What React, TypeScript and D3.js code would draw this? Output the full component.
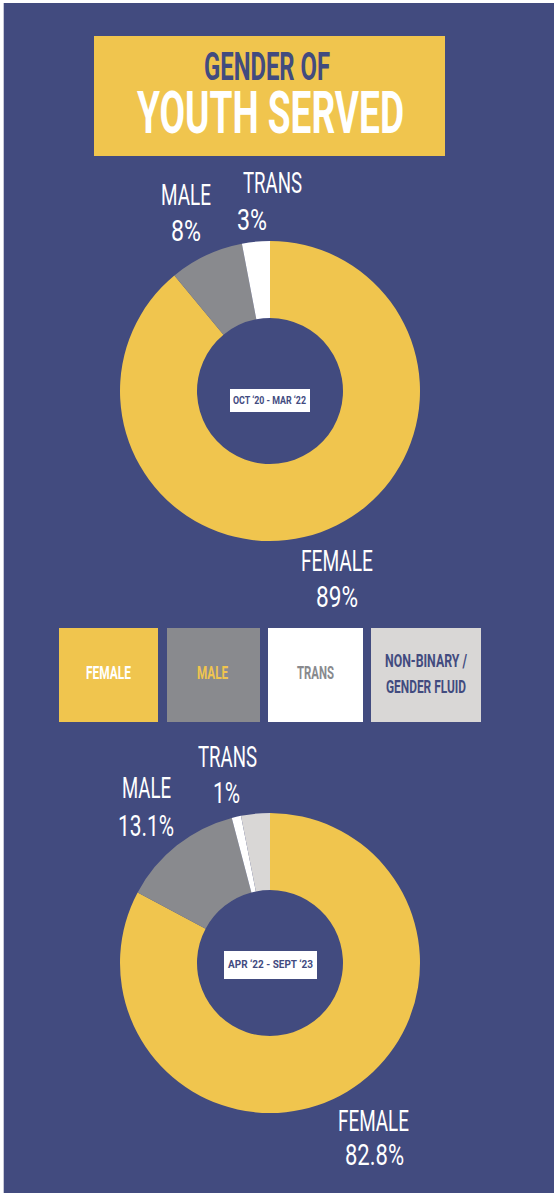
import React, { useEffect } from 'react';
import * as d3 from 'd3';

const categories = ['FEMALE', 'MALE', 'TRANS', 'NON-BINARY / GENDER FLUID'];
const periods = ['OCT ‘20 - MAR ‘22', 'APR ‘22 - SEPT ‘23'];
const share2020 = [89, 8, 3, 0];
const share2022 = [82.8, 13.1, 1, 3.1];
const pctLabels2020 = ['89%', '8%', '3%'];
const pctLabels2022 = ['82.8%', '13.1%', '1%'];

const NAVY = '#424b7f';
const colors = ['#f0c54e', '#898a8e', '#ffffff', '#d9d7d6'];
const legendText = ['#ffffff', '#f0c54e', '#898a8e', NAVY];

const FONT = 'Roboto, "DejaVu Sans", sans-serif';

// label boxes: [left, width, nameBaseline, pctLeft, pctWidth, pctBaseline]
const labelLayout = [
  [
    [301, 72, 571, 316, 42, 607],
    [161, 50, 205, 171, 30, 241],
    [243, 59, 193, 237, 30, 230],
  ],
  [
    [338, 71, 1131, 345, 59, 1165],
    [122, 49, 798, 118, 56, 836],
    [198, 59, 767, 213, 27, 803],
  ],
];

function Fit({ x, y, w, size, fill, weight = 400, children }: any) {
  return (
    <text x={x} y={y} textLength={w} lengthAdjust="spacingAndGlyphs"
      fontFamily={FONT} fontSize={size} fontWeight={weight} fill={fill}>
      {children}
    </text>
  );
}

function Donut({ values, cy, idx, period, box }: any) {
  const cx = 270;
  const pie = d3.pie<number>().sort(null).value((d) => d);
  const arc = d3.arc<d3.PieArcDatum<number>>().innerRadius(73).outerRadius(150);
  const arcs = pie(values);
  const pcts = idx === 0 ? pctLabels2020 : pctLabels2022;
  return (
    <g>
      <g transform={`translate(${cx},${cy})`}>
        {arcs.map((a, i) => (
          <path key={i} d={arc(a) || ''} fill={colors[i]} />
        ))}
      </g>
      <rect x={box[0]} y={box[1]} width={box[2]} height={box[3]} fill="#fff" />
      <Fit x={box[4]} y={box[5]} w={box[6]} size={11} fill={NAVY} weight={700}>{period}</Fit>
      {labelLayout[idx].map((l, i) => (
        <g key={i}>
          <Fit x={l[0]} y={l[2]} w={l[1]} size={29} fill="#fff">{categories[i]}</Fit>
          <Fit x={l[3]} y={l[5]} w={l[4]} size={29} fill="#fff">{pcts[i]}</Fit>
        </g>
      ))}
    </g>
  );
}

export default function App() {
  useEffect(() => {
    document.body.style.margin = '0';
    document.body.style.overflow = 'hidden';
  }, []);

  const legendBoxes = [
    [59, 99], [167, 93], [268, 95], [371, 110],
  ];

  return (
    <svg width={554} height={1193} style={{ position: 'absolute', left: 0, top: 0, display: 'block' }}>
      <rect x={0} y={0} width={554} height={1193} fill="#fff" />
      <rect x={3.7} y={3} width={551} height={1190} fill={NAVY} />

      <rect x={94} y={36} width={351} height={120} fill="#f0c54e" />
      <Fit x={204} y={80} w={126} size={39} fill={NAVY} weight={700}>GENDER OF</Fit>
      <Fit x={137} y={133} w={267} size={59} fill="#fff" weight={700}>YOUTH SERVED</Fit>

      <Donut values={share2020} cy={391} idx={0} period={periods[0]}
        box={[230, 389, 80, 23, 233, 404, 73]} />

      {legendBoxes.map((b, i) => (
        <rect key={i} x={b[0]} y={628} width={b[1]} height={94} fill={colors[i]} />
      ))}
      <Fit x={86} y={679} w={45} size={19} fill={legendText[0]} weight={700}>{categories[0]}</Fit>
      <Fit x={197} y={679} w={31} size={19} fill={legendText[1]} weight={700}>{categories[1]}</Fit>
      <Fit x={297} y={679} w={37} size={19} fill={legendText[2]} weight={700}>{categories[2]}</Fit>
      <Fit x={385} y={667} w={82} size={19} fill={legendText[3]} weight={700}>NON-BINARY /</Fit>
      <Fit x={386} y={693} w={80} size={19} fill={legendText[3]} weight={700}>GENDER FLUID</Fit>

      <Donut values={share2022} cy={963} idx={1} period={periods[1]}
        box={[224, 951, 93, 28, 228, 968, 85]} />
    </svg>
  );
}
